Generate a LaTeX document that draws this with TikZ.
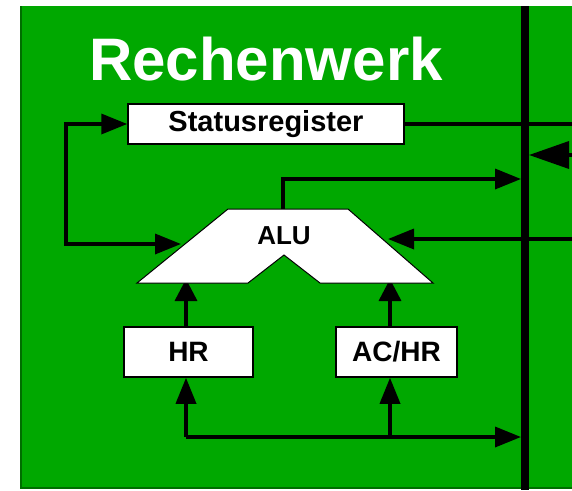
\documentclass[tikz,border=0pt]{standalone}
\usepackage{fontspec}
\setmainfont{Liberation Sans}
\usetikzlibrary{arrows.meta}
\definecolor{grn}{RGB}{0,168,0}
\definecolor{grnedge}{RGB}{0,110,0}
\begin{document}
\begin{tikzpicture}[x=1pt,y=-1pt,
  regbox/.style={draw=black,line width=1.5pt,fill=white,inner sep=0pt,
    font=\fontsize{28}{30}\selectfont\bfseries},
  wire/.style={line width=3.5pt,draw=black},
  tip/.tip={Triangle[length=26pt,width=20pt]},
  arr/.style={wire,-tip},
  sharr/.style={wire,-{Triangle[length=22pt,width=22pt]}}]
\useasboundingbox (0,0) rectangle (572,490);
% background
\fill[grn] (20,6) rectangle (572,489);
\draw[grnedge,line width=2pt] (21,6) -- (21,488) -- (572,488);

% title
\node[text=white,anchor=base,inner sep=0pt,font=\fontsize{60}{62}\selectfont\bfseries] (title) at (266,80) {Rechenwerk};

% registers
\node[regbox,minimum width=276pt,minimum height=40pt,font=\fontsize{29}{30}\selectfont\bfseries] (status) at (266,124) {Statusregister};
\node[regbox,minimum width=129pt,minimum height=50pt] (hr) at (188.5,352) {HR};
\node[regbox,minimum width=121pt,minimum height=50pt] (achr) at (396.5,352) {AC/HR};

% coordinates
\coordinate (bustop) at (525,6);
\coordinate (busbot) at (525,490);
\coordinate (fb) at (66,244);
\coordinate (aluL) at (181,244);
\coordinate (aluR) at (388,239);
\coordinate (aluout) at (283,209);
\coordinate (outcorner) at (283,179);
\coordinate (busout) at (521,179);
\coordinate (busin) at (529,155);
\coordinate (rin) at (572,155);
\coordinate (rstat) at (572,124);
\coordinate (ralu) at (572,239);
\coordinate (hrx) at (186,437);
\coordinate (achrx) at (390,437);
\coordinate (busbottom) at (521,437);
\coordinate (hrtop) at (186,279);
\coordinate (achrtop) at (390,279);

% connectors
\draw[wire,tip-tip] (status.west) -| (fb) -- (aluL);
\draw[wire] (status.east) -- (rstat);
\draw[wire,-{Triangle[length=40pt,width=27pt]}] (rin) -- (busin);
\draw[arr] (aluout) -- (outcorner) -- (busout);
\draw[arr] (ralu) -- (aluR);
\draw[sharr] (hr.north -| hrtop) -- (hrtop);
\draw[sharr] (achr.north -| achrtop) -- (achrtop);
\draw[arr] (hrx) -- (busbottom);
\draw[arr] (hrx) -- (hr.south -| hrx);
\draw[arr] (achrx) -- (achr.south -| achrx);

% ALU
\filldraw[fill=white,draw=black,line width=1pt,line join=miter]
  (228,209) -- (348,209) -- (433,283) -- (320,283) -- (284,255) -- (248,283) -- (137,283) -- cycle;
\node[inner sep=0pt,font=\fontsize{26}{28}\selectfont\bfseries] (alu) at (284,236) {ALU};

% bus
\draw[line width=8pt] (bustop) -- (busbot);
\end{tikzpicture}
\end{document}
